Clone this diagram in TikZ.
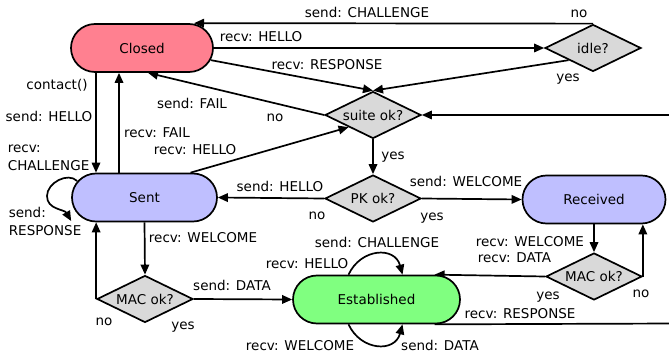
\documentclass[tikz,border=0pt]{standalone}
\usepackage{fontspec}
\setmainfont{DejaVu Sans}
\usetikzlibrary{shapes.geometric,shapes.misc,arrows.meta,backgrounds}

\definecolor{closedfill}{RGB}{255,128,144}
\definecolor{sentfill}{RGB}{191,191,255}
\definecolor{estfill}{RGB}{128,255,128}
\definecolor{testfill}{RGB}{217,217,217}

\begin{document}
\begin{tikzpicture}[x=1pt,y=1pt,
  font=\fontsize{13.5}{16}\selectfont,
  state/.style={rounded rectangle, draw, line width=1.7pt, minimum height=48pt, inner sep=0pt},
  test/.style={diamond, draw, line width=1.7pt, fill=testfill, aspect=2,
               minimum width=96pt, minimum height=47pt, inner sep=0pt},
  arr/.style={line width=1.7pt, -{Triangle[length=10pt,width=8.5pt]}},
  wire/.style={line width=1.7pt},
  lbl/.style={inner sep=0pt, text height=10pt, text depth=0pt},
]
\useasboundingbox (0,0) rectangle (669,-358);

% states and tests
\node[state, fill=closedfill, minimum width=142pt] (closed) at (142,-48) {Closed};
\node[test] (idle)  at (593,-48)    {idle?};
\node[test] (suite) at (373,-115)   {suite ok?};
\node[state, fill=sentfill, minimum width=145pt] (sent) at (144.5,-197.5) {Sent};
\node[test] (pk)    at (373,-198.5) {PK ok?};
\node[state, fill=sentfill, minimum width=143pt] (recv) at (594,-199.5) {Received};
\node[test] (mac1)  at (145,-299)   {MAC ok?};
\node[state, fill=estfill, minimum width=167pt] (est) at (376.5,-299.5) {Established};
\node[test] (mac2)  at (594,-276.5) {MAC ok?};

% loose ends leaving the right edge
\coordinate (suitein) at (675,-115);
\coordinate (estout)  at (675,-323.5);

\begin{scope}[on background layer]
\fill[white] (0,0) rectangle (669,-358);

\draw[arr] (idle.north) -- ([xshift=52pt]closed.north)
  node[lbl] (t1) at (367,-13) {send: CHALLENGE}
  node[lbl] (t2) at (579,-13) {no};
\draw[arr] (closed.east) -- (idle.west)
  node[lbl] (t3) at (261,-37) {recv: HELLO};
\draw[arr] (closed.-10) -- (suite.north)
  node[lbl] (t4) at (327,-65) {recv: RESPONSE};
\draw[arr] (idle.south west) -- (suite.north)
  node[lbl] (t5) at (568,-77) {yes};
\draw[arr] (suite.west) -- ([xshift=6pt]closed.south)
  node[lbl] (t6) at (192,-104) {send: FAIL}
  node[lbl] (t7) at (275,-117) {no};
\draw[arr] ([xshift=46pt]sent.north) -- (suite.south west)
  node[lbl] (t8) at (195,-150) {recv: HELLO};
\draw[arr] (suitein) -- (suite.east);

\draw[arr] ([xshift=-46pt]closed.south) -- ([xshift=-48.5pt]sent.north)
  node[lbl] (t9)  at (57,-85)  {contact()}
  node[lbl] (t10) at (49,-117) {send: HELLO}
  node[lbl, anchor=west] (t11) at (7,-148) {recv:}
  node[lbl, anchor=west] (t12) at (7,-166) {CHALLENGE};
\draw[arr] ([xshift=-25.5pt]sent.north) -- ([xshift=-23pt]closed.south)
  node[lbl] (t13) at (157,-133) {recv: FAIL};

\draw[arr] (suite.south) -- (pk.north)
  node[lbl] (t14) at (393,-155) {yes};
\draw[arr] (pk.west) -- (sent.east)
  node[lbl] (t15) at (280,-187) {send: HELLO}
  node[lbl] (t16) at (317,-214) {no};
\draw[arr] (pk.east) -- (recv.west)
  node[lbl] (t17) at (466,-182) {send: WELCOME}
  node[lbl] (t18) at (432,-216) {yes};

% self loop on Sent
\draw[arr] ([shift={(6pt,16.5pt)}]sent.west)
  to[out=135,in=90] (47,-196)
  to[out=270,in=120] ([yshift=-23.5pt]sent.west)
  node[lbl, anchor=west] (t19) at (8,-213) {send:}
  node[lbl, anchor=west] (t20) at (8,-231) {RESPONSE};

\draw[arr] (sent.south) -- (mac1.north)
  node[lbl] (t21) at (203,-237) {recv: WELCOME};
\draw[arr] (mac1.west) -- (mac1.west |- sent.south)
  node[lbl] (t22) at (104,-320) {no};
\draw[arr] (mac1.east) -- (est.west)
  node[lbl] (t23) at (232,-285) {send: DATA}
  node[lbl] (t24) at (183,-324) {yes};

% self loops on Established
\draw[arr] ([xshift=-28pt]est.north) to[out=65,in=105,looseness=1.4] ([xshift=26pt]est.north)
  node[lbl] (t25) at (377,-242) {send: CHALLENGE}
  node[lbl] (t26) at (307,-263) {recv: HELLO};
\draw[arr] ([xshift=-28pt]est.south) to[out=-65,in=-105,looseness=1.4] ([xshift=26pt]est.south)
  node[lbl] (t27) at (300,-345) {recv: WELCOME}
  node[lbl] (t28) at (440,-345) {send: DATA};

\draw[arr] (recv.south) -- (mac2.north)
  node[lbl, anchor=west] (t29) at (475,-241) {recv: WELCOME}
  node[lbl, anchor=west] (t30) at (477,-257) {recv: DATA};
\draw[arr] (mac2.east) -- (mac2.east |- recv.south)
  node[lbl] (t31) at (641,-292) {no};
\draw[arr] (mac2.west) -- ([xshift=58pt]est.north)
  node[lbl] (t32) at (548,-294) {yes};
\draw[wire] ([xshift=58pt]est.south) -- (estout)
  node[lbl] (t33) at (520,-313) {recv: RESPONSE};
\end{scope}
\end{tikzpicture}
\end{document}
